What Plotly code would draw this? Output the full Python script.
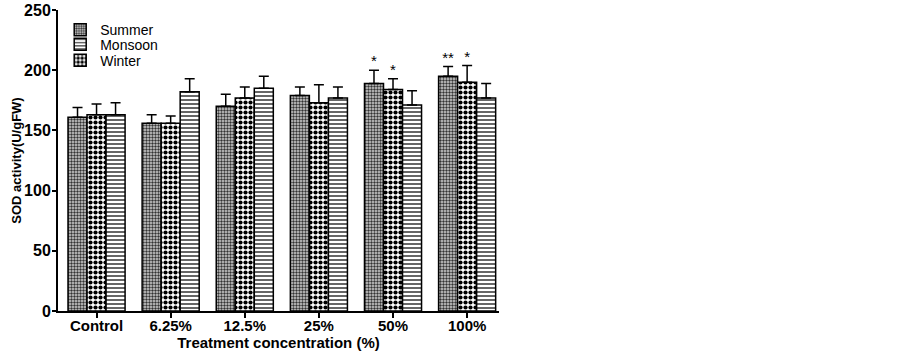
import plotly.graph_objects as go

categories = ["Control", "6.25%", "12.5%", "25%", "50%", "100%"]
summer = [161, 156, 170, 179, 189, 195]
summer_err = [8, 7, 10, 7, 11, 8]
winter = [163, 156, 177, 173, 184, 190]
winter_err = [9, 6, 9, 15, 9, 14]
monsoon = [163, 182, 185, 177, 171, 177]
monsoon_err = [10, 11, 10, 9, 12, 12]
summer_sig = ["", "", "", "", "*", "**"]
winter_sig = ["", "", "", "", "*", "*"]
monsoon_sig = ["", "", "", "", "", ""]

FONT = "Arial, Liberation Sans, sans-serif"

fig = go.Figure()

series = [
    ("Summer", summer, summer_err, summer_sig,
     dict(shape=".", size=3, solidity=0.5, fgcolor="#333333", bgcolor="#d4d4d4"), "legend"),
    ("Winter", winter, winter_err, winter_sig,
     dict(shape=".", size=5, solidity=0.55, fgcolor="#000000", bgcolor="#ffffff"), "legend3"),
    ("Monsoon", monsoon, monsoon_err, monsoon_sig,
     dict(shape="-", size=4, solidity=0.45, fgcolor="#555555", bgcolor="#ffffff"), "legend2"),
]

for name, vals, errs, sig, pat, leg in series:
    fig.add_trace(go.Bar(
        x=categories, y=vals, name=name, offsetgroup=name, legend=leg,
        marker=dict(color="white", pattern=dict(fillmode="replace", **pat),
                    line=dict(color="black", width=1.5)),
        error_y=dict(type="data", array=errs, symmetric=False, arrayminus=[0] * len(errs),
                     color="black", thickness=1.5, width=5),
    ))

for name, vals, errs, sig, pat, leg in series:
    fig.add_trace(go.Scatter(
        x=categories, y=[v + e for v, e in zip(vals, errs)], mode="text", text=sig,
        textposition="top center", offsetgroup=name, showlegend=False, hoverinfo="skip",
        textfont=dict(family=FONT, size=15, color="black"),
    ))

def leg(yc):
    return dict(x=0.005, y=yc, xanchor="left", yanchor="middle",
                font=dict(family=FONT, size=14, color="black"),
                bgcolor="rgba(0,0,0,0)", itemwidth=30)

fig.update_layout(
    width=902, height=352,
    margin=dict(l=58, r=403, t=10, b=41, autoexpand=False),
    paper_bgcolor="white", plot_bgcolor="white",
    barmode="group", bargap=0.23, bargroupgap=0,
    scattermode="group", scattergap=0.23,
    font=dict(family=FONT, color="black"),
    legend=leg(0.933), legend2=leg(0.885), legend3=leg(0.832),
    showlegend=True,
)
fig.update_xaxes(
    type="category", range=[-0.52, 5.43], automargin=False,
    showline=True, linecolor="black", linewidth=2,
    ticks="outside", ticklen=5, tickwidth=1.5, tickcolor="black",
    ticklabelstandoff=-5,
    tickfont=dict(family=FONT, size=15, color="black", weight="bold"),
    title=dict(text="<b>Treatment concentration (%)</b>", font=dict(family=FONT, size=15, color="black"), standoff=0),
    showgrid=False, zeroline=False,
)
fig.update_yaxes(
    range=[0, 250], tickvals=[0, 50, 100, 150, 200, 250], automargin=True,
    showline=True, linecolor="black", linewidth=2,
    ticks="outside", ticklen=4, tickwidth=1.5, tickcolor="black",
    ticklabelstandoff=-2,
    tickfont=dict(family=FONT, size=16, color="black", weight="bold"),
    title=dict(text="<b>SOD activity(U/gFW)</b>", font=dict(family=FONT, size=13, color="black"), standoff=0),
    showgrid=False, zeroline=False,
)

fig.write_html("out.html", config={"displayModeBar": False},
               post_script="document.body.style.margin='0';")
